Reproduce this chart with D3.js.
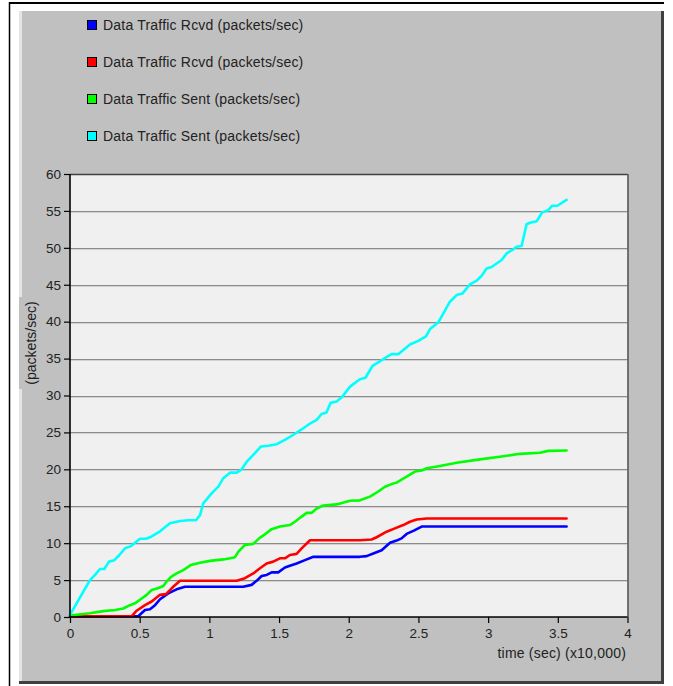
<!DOCTYPE html>
<html><head><meta charset="utf-8">
<script src="https://cdn.jsdelivr.net/npm/d3@7"></script>
<style>html,body{margin:0;padding:0;background:#fff;}svg{display:block;}</style>
</head><body>
<svg id="c" width="673" height="686"></svg>
<script>
const seriesNames = ["Data Traffic Rcvd (packets/sec)","Data Traffic Rcvd (packets/sec)","Data Traffic Sent (packets/sec)","Data Traffic Sent (packets/sec)"];
const seriesColors = ["#0000ff","#ff0000","#00ff00","#00ffff"];
const xTicks = [0,0.5,1,1.5,2,2.5,3,3.5,4];
const yTicks = [0,5,10,15,20,25,30,35,40,45,50,55,60];
const xLabel = "time (sec) (x10,000)";
const yLabel = "(packets/sec)";

// [time (x10,000 s), packets/sec]
const blueRcvd = [[0,0.1],[0.49,0.1],[0.538,0.95],[0.574,1.05],[0.61,1.6],[0.646,2.4],[0.705,3.2],[0.765,3.75],[0.825,4.1],[1.243,4.1],[1.303,4.35],[1.339,4.9],[1.375,5.55],[1.411,5.7],[1.447,6.05],[1.494,6.05],[1.542,6.7],[1.578,6.95],[1.626,7.25],[1.686,7.7],[1.746,8.15],[2.08,8.15],[2.128,8.25],[2.176,8.6],[2.236,9.05],[2.296,10.05],[2.343,10.35],[2.379,10.65],[2.415,11.25],[2.467,11.7],[2.523,12.25],[3.563,12.25]];
const redRcvd = [[0,0.1],[0.442,0.1],[0.478,0.85],[0.538,1.6],[0.586,2.1],[0.646,3.0],[0.689,3.1],[0.741,4.1],[0.789,4.9],[1.196,4.9],[1.255,5.25],[1.315,5.9],[1.363,6.6],[1.411,7.25],[1.458,7.5],[1.506,7.95],[1.542,7.95],[1.578,8.4],[1.626,8.55],[1.662,9.3],[1.722,10.4],[2.08,10.4],[2.164,10.5],[2.2,10.8],[2.272,11.55],[2.331,12.0],[2.391,12.45],[2.439,12.9],[2.487,13.2],[2.559,13.35],[3.563,13.35]];
const greenSent = [[0,0.2],[0.143,0.5],[0.239,0.8],[0.323,0.95],[0.383,1.15],[0.43,1.6],[0.466,1.85],[0.514,2.5],[0.55,3.0],[0.586,3.65],[0.629,3.9],[0.67,4.2],[0.693,4.8],[0.725,5.45],[0.765,5.9],[0.813,6.35],[0.868,7.05],[0.933,7.35],[1.004,7.6],[1.1,7.8],[1.148,7.95],[1.184,8.1],[1.208,8.85],[1.255,9.75],[1.315,9.9],[1.363,10.75],[1.399,11.2],[1.447,11.9],[1.506,12.25],[1.578,12.45],[1.614,12.9],[1.662,13.6],[1.698,14.1],[1.734,14.1],[1.77,14.7],[1.817,15.1],[1.913,15.25],[2.009,15.75],[2.08,15.8],[2.152,16.3],[2.212,17.0],[2.26,17.65],[2.307,18.0],[2.343,18.2],[2.415,19.0],[2.475,19.7],[2.523,19.85],[2.559,20.15],[2.654,20.45],[2.774,20.9],[2.941,21.35],[3.085,21.7],[3.228,22.1],[3.372,22.25],[3.431,22.5],[3.563,22.55]];
const cyanSent = [[0,0.3],[0.143,5.0],[0.18,5.7],[0.215,6.5],[0.246,6.5],[0.28,7.5],[0.318,7.7],[0.354,8.4],[0.395,9.3],[0.438,9.6],[0.502,10.6],[0.545,10.6],[0.574,10.8],[0.646,11.6],[0.717,12.7],[0.789,13.0],[0.849,13.1],[0.904,13.1],[0.933,13.8],[0.956,15.4],[1.016,16.75],[1.064,17.65],[1.1,18.8],[1.148,19.55],[1.196,19.55],[1.232,20.0],[1.267,21.0],[1.327,22.2],[1.37,23.1],[1.423,23.2],[1.483,23.4],[1.542,24.0],[1.6,24.65],[1.662,25.4],[1.722,26.2],[1.77,26.7],[1.805,27.5],[1.84,27.7],[1.87,29.0],[1.913,29.2],[1.95,29.75],[2.009,31.2],[2.08,32.2],[2.12,32.4],[2.17,34.0],[2.22,34.6],[2.27,35.2],[2.307,35.6],[2.355,35.6],[2.439,36.9],[2.499,37.4],[2.554,38.0],[2.583,39.0],[2.642,39.9],[2.678,41.1],[2.726,42.7],[2.774,43.6],[2.815,43.8],[2.87,45.05],[2.917,45.55],[2.953,46.2],[2.989,47.2],[3.025,47.4],[3.097,48.35],[3.133,49.25],[3.18,49.8],[3.204,50.15],[3.24,50.25],[3.276,53.2],[3.3,53.4],[3.348,53.6],[3.388,54.8],[3.431,55.1],[3.46,55.7],[3.496,55.7],[3.563,56.5]];
const seriesData = [blueRcvd, redRcvd, greenSent, cyanSent];

const svg = d3.select("#c");
const font = "'Liberation Sans', Arial, sans-serif";

// outer frame
svg.append("line").attr("x1",9).attr("x2",664).attr("y1",3).attr("y2",3).attr("stroke","#000").attr("stroke-width",2);
svg.append("line").attr("x1",9.5).attr("x2",9.5).attr("y1",2).attr("y2",686).attr("stroke","#000").attr("stroke-width",1.5);

// gray panel
svg.append("rect").attr("x",19).attr("y",11).attr("width",645).attr("height",673).attr("fill","#c0c0c0");
svg.append("rect").attr("x",19).attr("y",11).attr("width",3).attr("height",673).attr("fill","#e4e4e4");
svg.append("rect").attr("x",661).attr("y",11).attr("width",3).attr("height",673).attr("fill","#404040");
svg.append("rect").attr("x",19).attr("y",681).attr("width",645).attr("height",3).attr("fill","#404040");
// label background over light strip
svg.append("rect").attr("x",19).attr("y",297).attr("width",3).attr("height",92).attr("fill","#c0c0c0");

const x = d3.scaleLinear().domain([0,4]).range([70,627.5]);
const y = d3.scaleLinear().domain([0,60]).range([617,174]);

// plot bg
svg.append("rect").attr("x",x(0)).attr("y",y(60)).attr("width",x(4)-x(0)).attr("height",y(0)-y(60)).attr("fill","#f0f0f0");

// grid
const g = svg.append("g");
yTicks.filter(v=>v>0 && v<60).forEach(v=>{
  g.append("line").attr("x1",x(0)).attr("x2",x(4)).attr("y1",Math.round(y(v))+0.5).attr("y2",Math.round(y(v))+0.5).attr("stroke","#8c8c8c").attr("stroke-width",1);
  g.append("line").attr("x1",x(0)).attr("x2",x(4)).attr("y1",Math.round(y(v))+1.5).attr("y2",Math.round(y(v))+1.5).attr("stroke","#d2d2d2").attr("stroke-width",1);
});
// top & right border
svg.append("line").attr("x1",x(0)).attr("x2",x(4)).attr("y1",y(60)+0.5).attr("y2",y(60)+0.5).attr("stroke","#404040").attr("stroke-width",1.3);
svg.append("line").attr("x1",x(4)+0.5).attr("x2",x(4)+0.5).attr("y1",y(60)).attr("y2",y(0)).attr("stroke","#404040").attr("stroke-width",1.3);

// lines
const line = d3.line().x(d=>x(d[0])).y(d=>y(d[1]));
seriesData.forEach((s,i)=>{
  svg.append("path").datum(s).attr("d",line).attr("fill","none").attr("stroke",seriesColors[i]).attr("stroke-width",2.6).attr("stroke-linejoin","round").attr("stroke-linecap","round");
});

// axes
const yAxis = d3.axisLeft(y).tickValues(yTicks).tickSize(6).tickPadding(3).tickFormat(d3.format("d"));
const ya = svg.append("g").attr("transform",`translate(${x(0)},0)`).call(yAxis);
const xAxis = d3.axisBottom(x).tickValues(xTicks).tickSize(6).tickPadding(5).tickFormat(d=>String(d));
const xa = svg.append("g").attr("transform",`translate(0,${y(0)})`).call(xAxis);
[ya,xa].forEach(a=>{
  a.select(".domain").attr("stroke","#000").attr("stroke-width",1.6);
  a.selectAll(".tick line").attr("stroke","#000").attr("stroke-width",1.2);
  a.selectAll(".tick text").attr("fill","#222").attr("font-family",font).attr("font-size",13.5);
});
ya.select(".domain").attr("d",`M0,${y(0)}V${y(60)}`);
xa.select(".domain").attr("d",`M${x(0)},0H${x(4)}`);

// axis labels
svg.append("text").attr("x",626).attr("y",658).attr("text-anchor","end").attr("font-family",font).attr("font-size",14).attr("letter-spacing",0.2).attr("fill","#222").text(xLabel);
svg.append("text").attr("transform","translate(36,343) rotate(-90)").attr("text-anchor","middle").attr("font-family",font).attr("font-size",14).attr("fill","#222").text(yLabel);

// legend
const legendY = [25,62,99,136];
const lg = svg.append("g");
seriesNames.forEach((n,i)=>{
  lg.append("rect").attr("x",87.5).attr("y",legendY[i]-4.5).attr("width",9).attr("height",9).attr("fill",seriesColors[i]).attr("stroke","#000").attr("stroke-width",1);
  lg.append("text").attr("x",103).attr("y",legendY[i]+4.5).attr("font-family",font).attr("font-size",14).attr("letter-spacing",0.2).attr("fill","#222").text(n);
});
</script>
</body></html>
